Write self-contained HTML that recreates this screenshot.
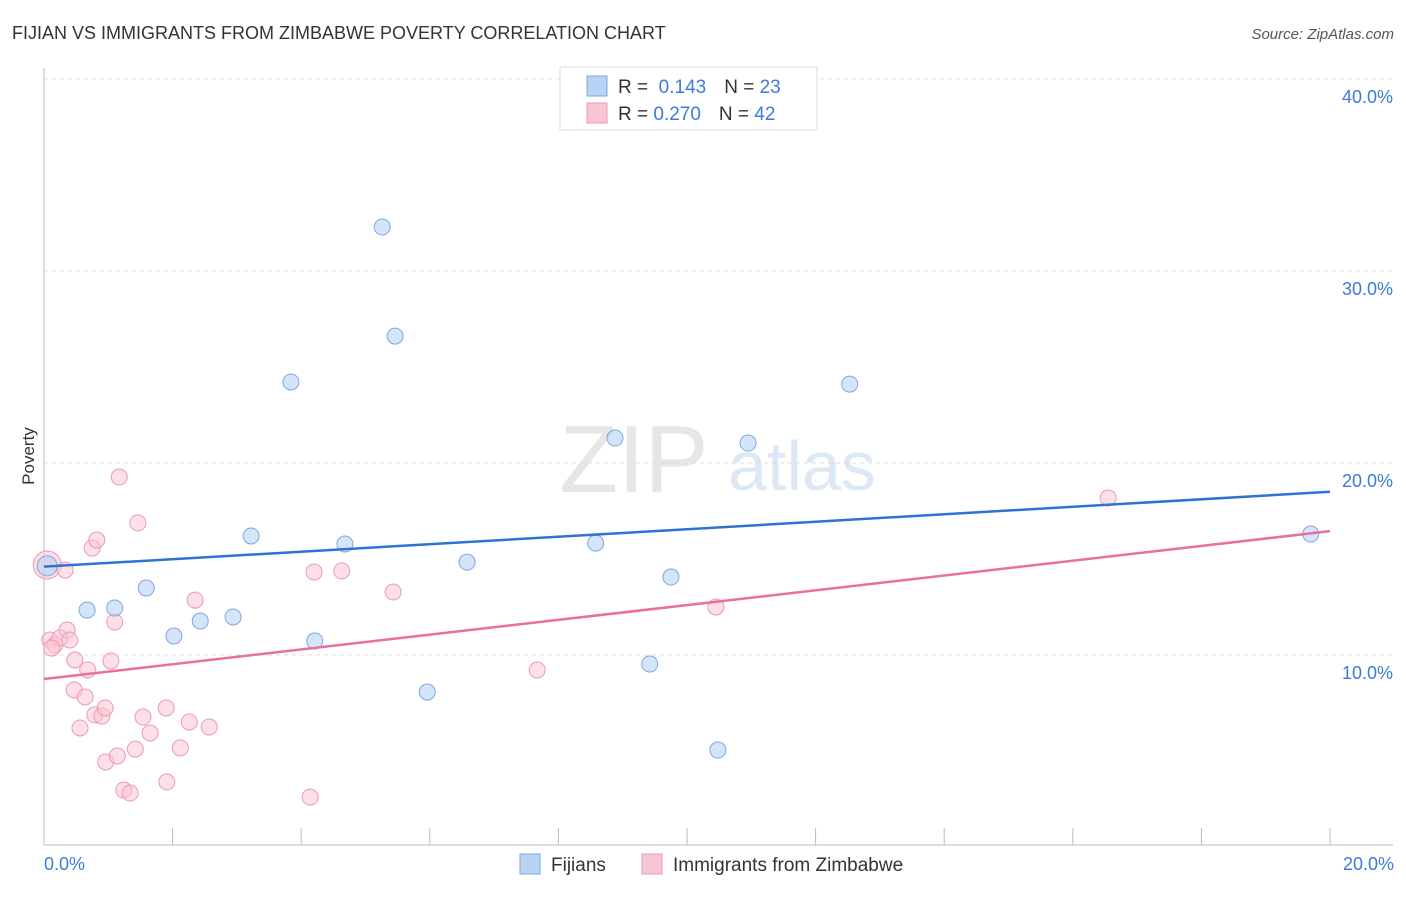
<!DOCTYPE html>
<html><head><meta charset="utf-8"><style>
body{margin:0;background:#fff;font-family:"Liberation Sans",sans-serif;}
svg text{font-family:"Liberation Sans",sans-serif;}
</style></head><body>
<svg id="c" width="1406" height="892" xmlns="http://www.w3.org/2000/svg">
<text x="12" y="39" font-size="18" fill="#333">FIJIAN VS IMMIGRANTS FROM ZIMBABWE POVERTY CORRELATION CHART</text>
<text x="1394" y="39" font-size="15" fill="#555" font-style="italic" text-anchor="end">Source: ZipAtlas.com</text>
<text x="634" y="492" font-size="96" fill="#e6e6e6" font-family="Liberation Serif" text-anchor="middle">ZIP</text>
<text x="802" y="490" font-size="70" fill="#dde8f6" text-anchor="middle">atlas</text>
<g id="grid"></g><g id="pts"></g><g id="lines"></g>
<text x="34" y="456" font-size="17" fill="#333" transform="rotate(-90 34 456)" text-anchor="middle">Poverty</text>
<text x="44" y="870" font-size="18" fill="#3d7bd9">0.0%</text>
<text x="1394" y="870" font-size="18" fill="#3d7bd9" text-anchor="end">20.0%</text>
<g>
<rect x="560" y="67" width="257" height="63" fill="#fff" stroke="#ddd"/>
<rect x="587" y="76" width="20" height="20" fill="#b9d3f5" stroke="#7ea7e0"/>
<rect x="587" y="103" width="20" height="20" fill="#f9c5d4" stroke="#eb9ab2"/>
<text x="618" y="93" font-size="19" fill="#333">R = <tspan fill="#3d7bd9">&#160;0.143</tspan><tspan dx="18">N = </tspan><tspan fill="#3d7bd9">23</tspan></text>
<text x="618" y="120" font-size="19" fill="#333">R = <tspan fill="#3d7bd9">0.270</tspan><tspan dx="18">N = </tspan><tspan fill="#3d7bd9">42</tspan></text>
</g>
<g>
<rect x="520" y="854" width="20" height="20" fill="#b9d3f5" stroke="#7ea7e0"/>
<text x="551" y="871" font-size="19" fill="#333">Fijians</text>
<rect x="642" y="854" width="20" height="20" fill="#f9c5d4" stroke="#eb9ab2"/>
<text x="673" y="871" font-size="19" fill="#333">Immigrants from Zimbabwe</text>
</g>
</svg>
<script>
const yTicks=[10,20,30,40];
const yTickLabels=["10.0%","20.0%","30.0%","40.0%"];
const fijX=[0.05,0.67,1.10,1.59,2.02,2.43,2.94,3.22,3.84,4.21,4.68,5.26,5.46,5.96,6.58,8.58,8.88,9.42,9.75,10.48,10.95,12.53,19.70];
const fijY=[14.64,12.34,12.45,13.49,10.99,11.77,11.98,16.20,24.22,10.73,15.78,32.29,26.61,8.07,14.84,15.83,21.30,9.53,14.06,5.05,21.04,24.11,16.30];
const zimX=[0.05,0.09,0.17,0.25,0.33,0.36,0.40,0.48,0.47,0.56,0.64,0.68,0.75,0.82,0.79,0.90,0.95,0.96,1.04,1.10,1.14,1.17,1.24,1.34,1.42,1.46,1.54,1.65,1.91,1.90,2.12,2.26,2.35,2.57,4.14,4.20,4.63,5.43,7.67,10.45,16.55,0.12];
const zimY=[14.69,10.78,10.52,10.89,14.43,11.30,10.78,9.74,8.18,6.20,7.81,9.22,15.57,15.99,6.88,6.82,7.24,4.43,9.69,11.72,4.74,19.27,2.97,2.81,5.10,16.88,6.77,5.94,3.39,7.24,5.16,6.51,12.86,6.25,2.60,14.32,14.38,13.28,9.22,12.50,18.18,10.36];
const fijLine=[14.6,18.5];
const zimLine=[8.75,16.45];
const X=v=>44+v/20*1286, Y=v=>847-v*19.2;
const NS="http://www.w3.org/2000/svg";
function mk(t,a,p){const e=document.createElementNS(NS,t);for(const k in a)e.setAttribute(k,a[k]);p.appendChild(e);return e;}
const g=document.getElementById('grid');
yTicks.forEach((t,i)=>{
 const l=mk('line',{x1:44,x2:1393,y1:Y(t),y2:Y(t),stroke:'#ddd','stroke-dasharray':'4,4'},g);
 
 
 const tx=mk('text',{x:1393,y:Y(t)+24,'font-size':18,fill:'#3d7bd9','text-anchor':'end'},g);
 tx.textContent=yTickLabels[i];
 
 
});
const ax=mk('line',{x1:44,x2:44,y1:68,y2:845,stroke:'#bbb'},g);


const bx=mk('line',{x1:44,x2:1393,y1:845,y2:845,stroke:'#bbb'},g);


for(let i=0;i<=10;i++){const t=mk('line',{x1:X(i*2),x2:X(i*2),y1:828,y2:845,stroke:'#bbb'},g);
 
 }
const p=document.getElementById('pts');
zimX.forEach((x,i)=>{const c=mk('circle',{cx:X(x),cy:Y(zimY[i]),r:i==0?14:8,fill:'#f9c5d4','fill-opacity':0.55,stroke:'#eb9ab2'},p);
 
 });
fijX.forEach((x,i)=>{const c=mk('circle',{cx:X(x),cy:Y(fijY[i]),r:i==0?10:8,fill:'#b9d3f5','fill-opacity':0.6,stroke:'#7ea7e0'},p);
 
 });
const L=document.getElementById('lines');
const l1=mk('line',{x1:X(0),x2:X(20),y1:Y(fijLine[0]),y2:Y(fijLine[1]),stroke:'#2e72d2','stroke-width':2.5},L);


const l2=mk('line',{x1:X(0),x2:X(20),y1:Y(zimLine[0]),y2:Y(zimLine[1]),stroke:'#e8719a','stroke-width':2.5},L);


</script>
</body></html>
